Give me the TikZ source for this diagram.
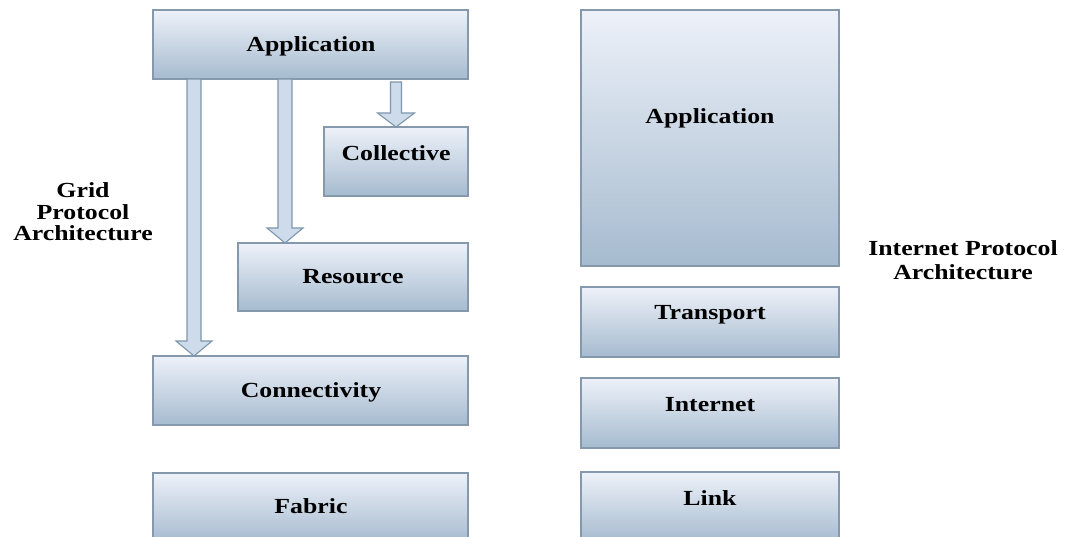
\documentclass[tikz,border=0pt]{standalone}
\usepackage{fontspec}
\setmainfont{Liberation Serif}[FakeStretch=1.2]
\usetikzlibrary{calc}
\definecolor{boxtop}{HTML}{EDF1F9}
\definecolor{boxbot}{HTML}{A6BBCF}
\definecolor{boxline}{HTML}{8598AC}
\definecolor{arrfill}{HTML}{CDDBEA}
\definecolor{arrline}{HTML}{7F97AE}
\tikzset{
  layer/.style={draw=boxline, line width=1.2pt, top color=boxtop, bottom color=boxbot,
    rectangle, inner sep=0pt, outer sep=0pt},
  lbl/.style={font=\bfseries\fontsize{21.5}{22}\selectfont, anchor=base, inner sep=0pt},
  side/.style={font=\bfseries\fontsize{21.5}{21.5}\selectfont, align=center, inner sep=0pt},
  barrow/.style={draw=arrline, fill=arrfill, line width=1.1pt, line join=miter},
}
% block arrow: start, tip, shaft half width, head half width, head length
\newcommand\blockarrow[5]{%
  \draw[barrow] ($(#1)+(-#3,0)$) -- ($(#2)+(-#3,-#5)$) -- ($(#2)+(-#4,-#5)$) -- (#2)
    -- ($(#2)+(#4,-#5)$) -- ($(#2)+(#3,-#5)$) -- ($(#1)+(#3,0)$) -- cycle;}
\begin{document}
\begin{tikzpicture}[x=1pt,y=-1pt]
\clip (0,0) rectangle (1069,537);
\fill[white] (0,0) rectangle (1069,537);

% Grid protocol stack
\node[layer, minimum width=315pt, minimum height=69pt] (gapp) at (310.5,44.5) {};
\node[layer, minimum width=144pt, minimum height=69pt] (coll) at (396,161.5) {};
\node[layer, minimum width=230pt, minimum height=68pt] (res) at (353,277) {};
\node[layer, minimum width=315pt, minimum height=69pt] (conn) at (310.5,390.5) {};
\node[layer, minimum width=315pt, minimum height=69pt] (fab) at (310.5,507.5) {};

\node[lbl] (tgapp) at (311,52) {Application};
\node[lbl] (tcoll) at (396,161) {Collective};
\node[lbl] (tres) at (353,284) {Resource};
\node[lbl] (tconn) at (311,398) {Connectivity};
\node[lbl] (tfab) at (311,513.5) {Fabric};

% arrows from the application layer
\coordinate (a1s) at ([xshift=41pt]gapp.south west);
\coordinate (a1t) at ([xshift=41pt]conn.north west);
\coordinate (a2s) at ([xshift=132pt]gapp.south west);
\coordinate (a2t) at ([xshift=47pt]res.north west);
\coordinate (a3s) at ([xshift=243pt,yshift=-3pt]gapp.south west);
\coordinate (a3t) at ([xshift=243pt]gapp.south west |- coll.north);
\blockarrow{a1s}{a1t}{7}{18}{15}
\blockarrow{a2s}{a2t}{7}{18}{15}
\blockarrow{a3s}{a3t}{5.5}{18.5}{14}

\node[side] (gridlbl) at (83,212) {Grid\\Protocol\\Architecture};

% Internet protocol stack
\node[layer, minimum width=258pt, minimum height=256pt] (iapp) at (710,138) {};
\node[layer, minimum width=258pt, minimum height=70pt] (trans) at (710,322) {};
\node[layer, minimum width=258pt, minimum height=70pt] (inet) at (710,413) {};
\node[layer, minimum width=258pt, minimum height=70pt] (link) at (710,507) {};

\node[lbl] (tiapp) at (710,124) {Application};
\node[lbl] (ttrans) at (710,320) {Transport};
\node[lbl] (tinet) at (710,412) {Internet};
\node[lbl] (tlink) at (710,505) {Link};

\node[side, font=\bfseries\fontsize{21.5}{24}\selectfont] (inetlbl) at (963,260) {Internet Protocol\\Architecture};
\end{tikzpicture}
\end{document}
